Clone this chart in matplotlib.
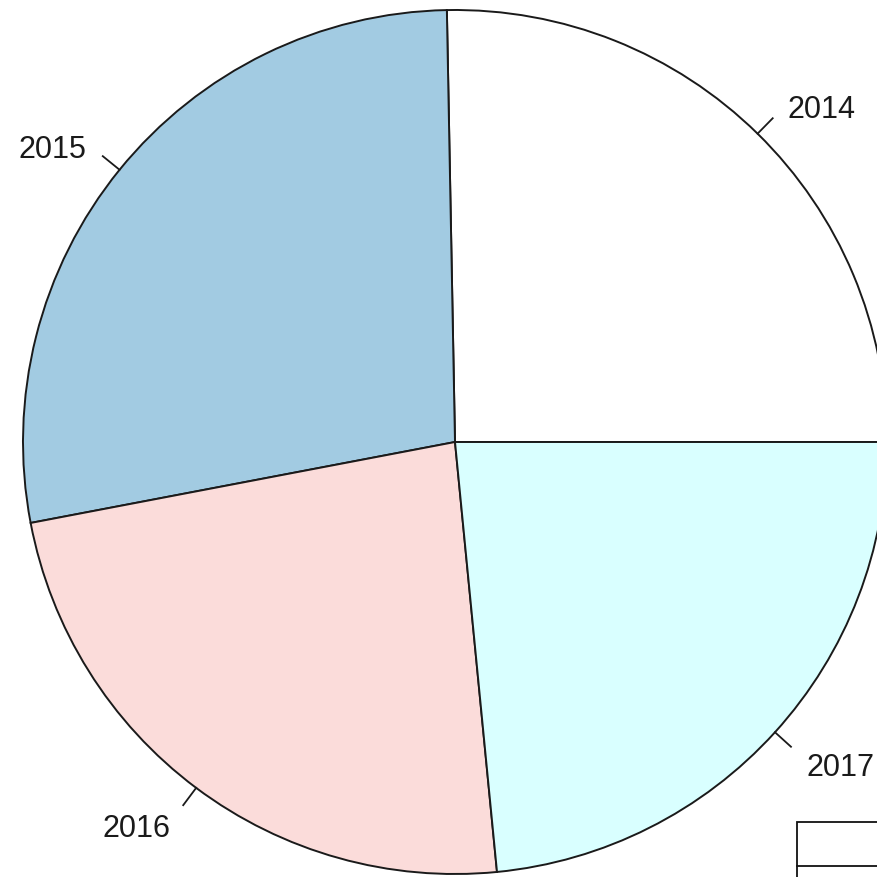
import matplotlib.pyplot as plt
from matplotlib.patches import Rectangle
import numpy as np

plt.rcParams['font.family'] = ['Liberation Sans', 'DejaVu Sans']

years = ['2014', '2015', '2016', '2017']
shares = [25.3, 27.7, 23.55, 23.45]
colours = ['#FFFFFF', '#A2CBE2', '#FBDCDA', '#D9FFFF']

fig = plt.figure(figsize=(8.78, 8.78), dpi=100)
ax = fig.add_axes([0, 0, 1, 1])

# pie centred at px (455, 443), radius 432 px -> limits in radius units
r_px = 432.0
wedges, _ = ax.pie(shares, colors=colours, startangle=0, counterclock=True,
                   radius=1.0, wedgeprops=dict(edgecolor='#1a1a1a', linewidth=1.4))
ax.set_xlim(-455 / r_px, (878 - 455) / r_px)
ax.set_ylim(-(878 - 443) / r_px, 443 / r_px)
ax.set_aspect('equal')
ax.axis('off')

# R-style labels: short tick out of the rim, text at 1.1 r
for w, lab in zip(wedges, years):
    mid = np.deg2rad((w.theta1 + w.theta2) / 2)
    c, s = np.cos(mid), np.sin(mid)
    ax.plot([c, 1.05 * c], [s, 1.05 * s], color='#1a1a1a', lw=1.3)
    ax.text(1.1 * c, 1.1 * s - 6 / r_px, lab, fontsize=22, color='#1a1a1a',
            ha='left' if c > 0 else 'right', va='center')

# partial box in the bottom right corner
fig.patches.append(Rectangle((797 / 878, -0.02), 0.2, 0.02 + 1 - 823 / 878,
                             transform=fig.transFigure, fill=False,
                             edgecolor='#111111', lw=1.3))
fig.lines.append(plt.Line2D([797 / 878, 1.0], [1 - 867 / 878, 1 - 867 / 878],
                            transform=fig.transFigure, color='#111111', lw=1.3))

fig.savefig('out.png', dpi=100)
